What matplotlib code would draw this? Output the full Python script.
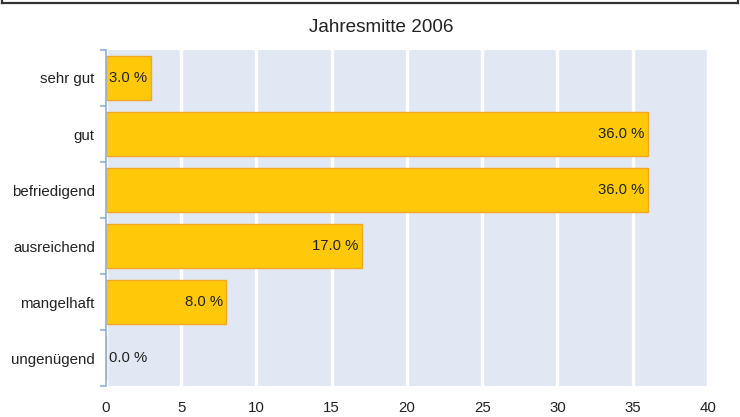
import matplotlib.pyplot as plt
from matplotlib.lines import Line2D
import numpy as np

plt.rcParams['font.family'] = ['Liberation Sans', 'DejaVu Sans']

categories = ['sehr gut', 'gut', 'befriedigend', 'ausreichend', 'mangelhaft', 'ungenügend']
values = [3.0, 36.0, 36.0, 17.0, 8.0, 0.0]
xticks = [0, 5, 10, 15, 20, 25, 30, 35, 40]

fig = plt.figure(figsize=(7.4, 4.17), dpi=100)
ax = fig.add_axes([0.1432, 0.0743, 0.8135, 0.8058])
ax.set_facecolor('#E1E8F3')

y = np.arange(len(categories))
ax.barh(y, values, height=0.78, color='#FFC90A', edgecolor='#F5A623', linewidth=1, zorder=3)

for yi, v in zip(y, values):
    if v < 5:
        ax.text(0.2, yi, f'{v:.1f} %', ha='left', va='center', fontsize=10.7, color='#222222', zorder=4)
    else:
        ax.text(v - 0.2, yi, f'{v:.1f} %', ha='right', va='center', fontsize=10.7, color='#222222', zorder=4)

ax.set_xlim(0, 40)
ax.set_ylim(len(categories) - 0.5, -0.5)
ax.set_xticks(xticks)
ax.set_yticks(y)
ax.set_yticklabels(categories)
ax.set_yticks(np.arange(-0.5, len(categories)), minor=True)
ax.tick_params(axis='y', which='major', length=0, pad=8, labelsize=10.8, labelcolor='#222222')
ax.tick_params(axis='y', which='minor', length=4, color='#8FB0DC', width=1.2)
ax.tick_params(axis='x', length=0, pad=11, labelsize=10.8, labelcolor='#222222')
ax.xaxis.grid(True, color='white', linewidth=2.5, zorder=1)
ax.set_axisbelow(True)
for s in ['top', 'right', 'bottom']:
    ax.spines[s].set_visible(False)
ax.spines['left'].set_color('#8FB0DC')
ax.spines['left'].set_linewidth(1.2)
ax.spines['left'].set_zorder(5)

fig.text(0.515, 0.933, 'Jahresmitte 2006', ha='center', va='center', fontsize=13.6, color='#222222')

# border line at the top of the image
fig.add_artist(Line2D([0.003, 0.997], [0.993, 0.993], color='#333333', linewidth=1.6))
fig.add_artist(Line2D([0.003, 0.003], [0.993, 1.0], color='#333333', linewidth=1.6))
fig.add_artist(Line2D([0.997, 0.997], [0.993, 1.0], color='#333333', linewidth=1.6))

fig.savefig('out.png', dpi=100)
